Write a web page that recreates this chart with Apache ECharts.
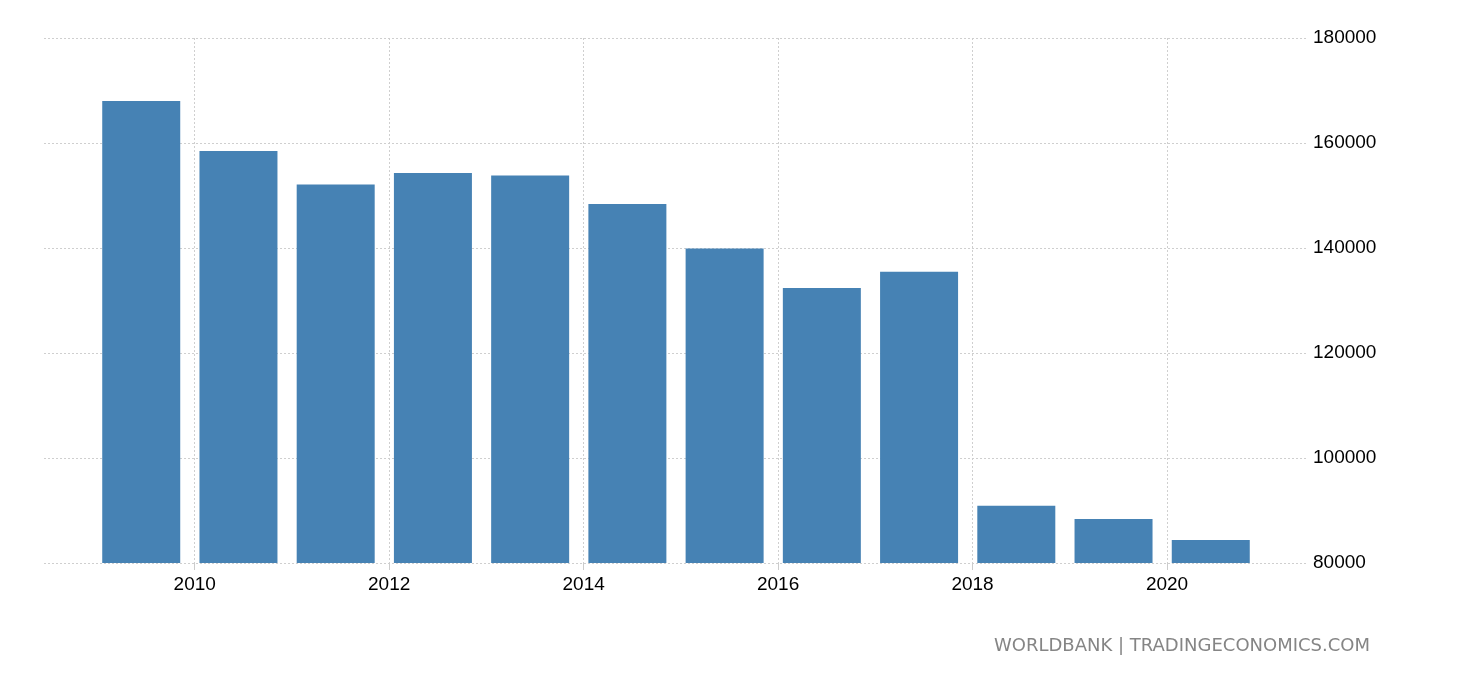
<!DOCTYPE html>
<html>
<head>
<meta charset="utf-8">
<script src="https://cdn.jsdelivr.net/npm/echarts@6/dist/echarts.min.js"></script>
<style>
html,body{margin:0;padding:0;background:#fff;}
#chart{width:1460px;height:680px;}
</style>
</head>
<body>
<div id="chart"></div>
<script>
// ---- data ----
const years = [2009, 2010, 2011, 2012, 2013, 2014, 2015, 2016, 2017, 2018, 2019, 2020];
const values = [168000, 158500, 152100, 154300, 153800, 148400, 139900, 132400, 135500, 90900, 88400, 84400];
const xTickLabels = [2010, 2012, 2014, 2016, 2018, 2020];
const yTickLabels = [80000, 100000, 120000, 140000, 160000, 180000];
const sourceText = 'WORLDBANK | TRADINGECONOMICS.COM';

// bars sit inside their year slot
const slotOffset = 0.45;
const barData = years.map((y, i) => [y + slotOffset, values[i]]);

const chart = echarts.init(document.getElementById('chart'), null, {renderer: 'canvas'});
const labelFont = {fontFamily: 'Liberation Sans', fontSize: 19, color: '#000'};

chart.setOption({
  animation: false,
  backgroundColor: '#fff',
  grid: {left: 44, right: 152, top: 38, bottom: 117, containLabel: false},
  xAxis: {
    type: 'value',
    min: years[0] - 1 + slotOffset,
    max: years[years.length - 1] + 1 + slotOffset,
    splitNumber: 6,
    axisLine: {show: false},
    axisTick: {show: true, length: 7, lineStyle: {color: '#ccc', width: 1}, customValues: xTickLabels},
    axisLabel: Object.assign({margin: 12, customValues: xTickLabels, formatter: v => String(v)}, labelFont),
    splitLine: {show: true, lineStyle: {color: '#cfcfcf', type: [2, 2], width: 1}}
  },
  yAxis: {
    type: 'value',
    position: 'right',
    min: yTickLabels[0],
    max: yTickLabels[yTickLabels.length - 1],
    interval: yTickLabels[1] - yTickLabels[0],
    axisLine: {show: false},
    axisTick: {show: false},
    axisLabel: Object.assign({margin: 5, formatter: v => String(v)}, labelFont),
    splitLine: {show: true, lineStyle: {color: '#cfcfcf', type: [2, 2], width: 1}}
  },
  series: [{
    type: 'bar',
    data: barData,
    barWidth: 78,
    itemStyle: {color: '#4682B4'}
  }],
  graphic: [{
    type: 'text',
    right: 90,
    top: 637,
    style: {text: sourceText, fill: '#858585', font: '18px "DejaVu Sans"'}
  }]
});
</script>
</body>
</html>
